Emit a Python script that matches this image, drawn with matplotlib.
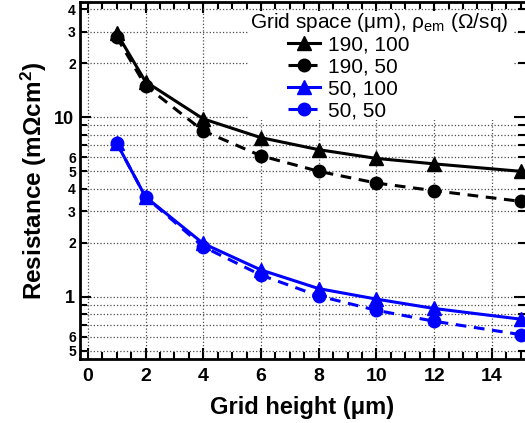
import matplotlib
matplotlib.use("Agg")
import matplotlib.pyplot as plt
from matplotlib.patches import Rectangle
from matplotlib.ticker import FixedLocator, FixedFormatter, MultipleLocator

plt.rcParams['font.family'] = ['Liberation Sans', 'DejaVu Sans']
plt.rcParams['mathtext.fontset'] = 'custom'
plt.rcParams['mathtext.rm'] = 'Liberation Sans'
plt.rcParams['mathtext.it'] = 'Liberation Sans:italic'
plt.rcParams['mathtext.bf'] = 'Liberation Sans:bold'

# Data
grid_height = [1, 2, 4, 6, 8, 10, 12, 15]
r_190_100 = [29.5, 15.8, 9.8, 7.7, 6.6, 5.9, 5.5, 5.0]
r_190_50 = [28.0, 15.0, 8.4, 6.1, 5.0, 4.3, 3.9, 3.4]
r_50_100 = [7.2, 3.6, 1.98, 1.41, 1.11, 0.97, 0.86, 0.75]
r_50_50 = [7.2, 3.6, 1.90, 1.32, 1.01, 0.84, 0.73, 0.615]
labels = ["190, 100", "190, 50", "50, 100", "50, 50"]
legend_title = r"Grid space (μm), ρ$_\mathregular{em}$ (Ω/sq)"

fig = plt.figure(figsize=(5.25, 4.23), dpi=100)
ax = fig.add_axes([80/525, 1-359.3/423, 1-80/525, (359.3-2)/423])

blue = '#0000ff'
dash = (0, (3.5, 2.5))
ax.plot(grid_height, r_190_100, '-', color='black', lw=2.2, marker='^', ms=10, label=labels[0], zorder=5)
ax.plot(grid_height, r_190_50, color='black', lw=2.2, ls=dash, marker='o', ms=9, label=labels[1], zorder=5)
ax.plot(grid_height, r_50_100, '-', color=blue, lw=2.2, marker='^', ms=10, label=labels[2], zorder=5)
ax.plot(grid_height, r_50_50, color=blue, lw=2.2, ls=dash, marker='o', ms=9, label=labels[3], zorder=5)

ax.set_yscale('log')
ax.set_xlim(-0.27, 15.15)
ax.set_ylim(0.448, 43.9)

# x ticks
ax.xaxis.set_major_locator(MultipleLocator(2))
ax.xaxis.set_minor_locator(MultipleLocator(0.5))
# y ticks
ax.yaxis.set_major_locator(FixedLocator([1, 10]))
ax.yaxis.set_major_formatter(FixedFormatter(['1', '10']))
minor_vals = [0.5, 0.6, 0.7, 0.8, 0.9, 2, 3, 4, 5, 6, 7, 8, 9, 20, 30, 40]
minor_labels = ['5', '6', '', '', '', '2', '3', '4', '5', '6', '', '', '', '2', '3', '4']
ax.yaxis.set_minor_locator(FixedLocator(minor_vals))
ax.yaxis.set_minor_formatter(FixedFormatter(minor_labels))

ax.tick_params(which='both', direction='in', top=True, right=True, width=1.5, colors='black')
ax.tick_params(which='major', length=8)
ax.tick_params(which='minor', length=5)
ax.tick_params(axis='x', which='major', labelsize=14, pad=6)
ax.tick_params(axis='y', which='major', labelsize=13, pad=4)
ax.tick_params(axis='y', which='minor', labelsize=10, pad=3)
for lab in ax.get_xticklabels() + ax.get_yticklabels() + ax.get_yticklabels(minor=True):
    lab.set_fontweight('bold')

ax.grid(True, which='major', axis='x', color='0.3', ls=':', lw=0.9)
ax.grid(True, which='both', axis='y', color='0.3', ls=':', lw=0.9)

for s in ['left', 'bottom', 'top']:
    ax.spines[s].set_linewidth(2)
ax.spines['right'].set_visible(False)

ax.set_xlabel('Grid height (μm)', fontsize=17, fontweight='bold', labelpad=8)
ax.set_ylabel(r'Resistance (mΩcm$^\mathregular{2}$)', fontsize=17.5, fontweight='bold', labelpad=4)

# legend area: white box, title, entries
def ax_x(px):
    return (px - 80) / 445.0

def ax_y(py):
    return (359.3 - py) / 357.3

ax.add_patch(Rectangle((ax_x(248), ax_y(120)), ax_x(513) - ax_x(248), ax_y(11) - ax_y(120),
                       transform=ax.transAxes, facecolor='white', edgecolor='none', zorder=8))
ax.text(ax_x(250), ax_y(28.5), legend_title, transform=ax.transAxes, fontsize=15,
        ha='left', va='baseline', zorder=9)
leg = ax.legend(loc='upper left', bbox_to_anchor=(ax_x(288), ax_y(35.5)),
                fontsize=15, frameon=False,
                handlelength=1.55, handletextpad=0.38, labelspacing=0.14,
                borderpad=0, borderaxespad=0)
leg.set_zorder(10)

fig.savefig('out.png', dpi=100)
